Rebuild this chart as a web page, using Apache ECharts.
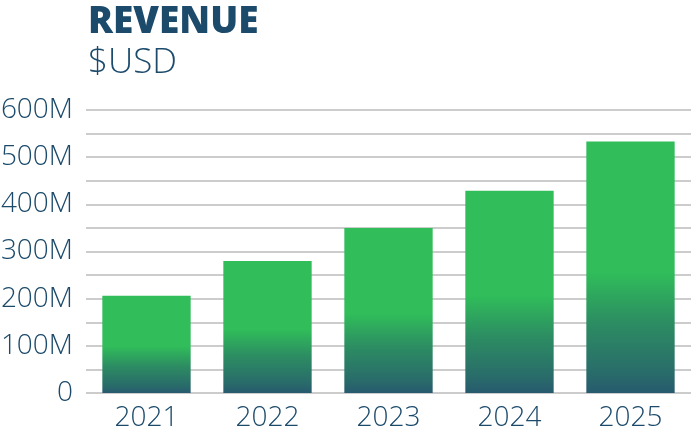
<!DOCTYPE html>
<html>
<head>
<meta charset="utf-8">
<script src="https://cdn.jsdelivr.net/npm/echarts@6/dist/echarts.min.js"></script>
<style>
  html, body { margin: 0; padding: 0; background: #fff; }
  #chart { width: 691px; height: 426px; }
</style>
</head>
<body>
<div id="chart"></div>
<script>
const years = ['2021', '2022', '2023', '2024', '2025'];
// revenue in millions of USD
const revenue = [206, 280, 350, 429, 533];

const TEXT = '#1b4a6b';
const FONT = '"Open Sans", sans-serif';

const chart = echarts.init(document.getElementById('chart'));
chart.setOption({
  animation: false,
  title: [
    {
      text: 'REVENUE',
      left: 83,
      top: -1,
      textStyle: { color: TEXT, fontFamily: FONT, fontSize: 37, fontWeight: 800 },
    },
    {
      text: '$USD',
      left: 83,
      top: 41,
      textStyle: { color: TEXT, fontFamily: FONT, fontSize: 35, fontWeight: 300 },
    },
  ],
  grid: { left: 86, right: 0, top: 110, bottom: 33, outerBoundsMode: 'none', containLabel: false },
  xAxis: {
    type: 'category',
    data: years,
    axisLine: { show: false },
    axisTick: { show: false },
    axisLabel: { color: TEXT, fontFamily: FONT, fontSize: 28, fontWeight: 300, margin: 11 },
  },
  yAxis: {
    type: 'value',
    min: 0,
    max: 600,
    interval: 50,
    axisLine: { show: false },
    axisTick: { show: false },
    splitLine: { lineStyle: { color: '#cccccc', width: 2 } },
    axisLabel: {
      color: TEXT,
      fontFamily: FONT,
      fontSize: 28,
      fontWeight: 300,
      margin: 13,
      formatter: (v) => (v % 100 ? '' : v === 0 ? '0' : v + 'M'),
    },
  },
  series: [
    {
      type: 'bar',
      data: revenue,
      barCategoryGap: '27%',
      itemStyle: {
        color: new echarts.graphic.LinearGradient(0, 0, 0, 1, [
          { offset: 0, color: '#30bd5a' },
          { offset: 0.52, color: '#30bd5a' },
          { offset: 0.72, color: '#2c8d62' },
          { offset: 0.92, color: '#296c6a' },
          { offset: 1, color: '#275a6e' },
        ]),
      },
    },
  ],
});
</script>
</body>
</html>
